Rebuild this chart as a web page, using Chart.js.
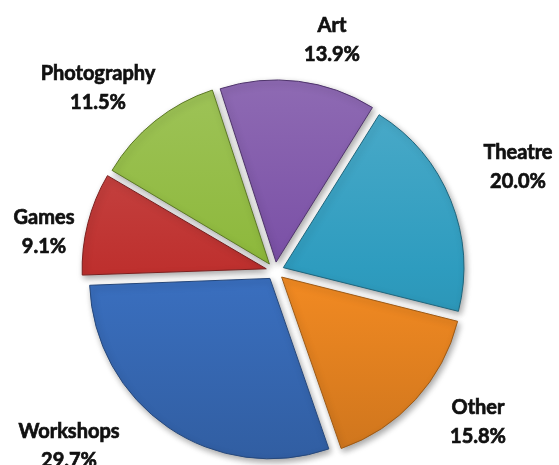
<!DOCTYPE html>
<html>
<head>
<meta charset="utf-8">
<script src="https://cdn.jsdelivr.net/npm/chart.js@4.4.1/dist/chart.umd.min.js"></script>
<style>
  html, body { margin: 0; padding: 0; background: #ffffff; }
  #wrap { width: 559px; height: 465px; position: relative; }
</style>
</head>
<body>
<div id="wrap"><canvas id="pieChart"></canvas></div>
<script>
// Share of events by category (%)
const categories = ["Art", "Theatre", "Other", "Workshops", "Games", "Photography"];
const shares = [13.9, 20.0, 15.8, 29.7, 9.1, 11.5];
const sliceColors = ["#7a50a6", "#2e9cbf", "#f28a22", "#3a6fbf", "#be302e", "#8db83b"];

// Where each two-line label sits (centre of the text block)
const labelSpots = [
  [332, 40], [518, 167], [478, 422], [69, 446], [44, 232], [98, 88]
];

const PIE_RADIUS = 180;

function shade(hex, amt) {
  const n = parseInt(hex.slice(1), 16);
  let r = (n >> 16) & 255, g = (n >> 8) & 255, b = n & 255;
  const t = amt < 0 ? 0 : 255;
  const p = Math.abs(amt);
  r = Math.round(r + (t - r) * p);
  g = Math.round(g + (t - g) * p);
  b = Math.round(b + (t - b) * p);
  return "rgb(" + r + "," + g + "," + b + ")";
}

// vertical light-to-dark fill for each slice
function sliceFill(context) {
  const chart = context.chart;
  const area = chart.chartArea;
  const base = sliceColors[context.dataIndex % sliceColors.length];
  if (!area) return base;
  const cy = (area.top + area.bottom) / 2;
  const g = chart.ctx.createLinearGradient(0, cy - PIE_RADIUS, 0, cy + PIE_RADIUS);
  g.addColorStop(0, shade(base, 0.15));
  g.addColorStop(0.5, base);
  g.addColorStop(1, shade(base, -0.15));
  return g;
}

// soft drop shadow under the slices
const shadowPlugin = {
  id: "sliceShadow",
  beforeDatasetsDraw(chart) {
    const ctx = chart.ctx;
    ctx.save();
    ctx.shadowColor = "rgba(0, 0, 0, 0.35)";
    ctx.shadowBlur = 6;
    ctx.shadowOffsetX = 2;
    ctx.shadowOffsetY = 3;
  },
  afterDatasetsDraw(chart) {
    chart.ctx.restore();
  },
};

// category name + percentage outside each slice
const labelPlugin = {
  id: "sliceLabels",
  afterDraw(chart) {
    const ctx = chart.ctx;
    const data = chart.data.datasets[0].data;
    ctx.save();
    ctx.font = "bold 20px Lato, 'Open Sans', sans-serif";
    ctx.fillStyle = "#111111";
    ctx.strokeStyle = "#111111";
    ctx.lineWidth = 0.7;
    ctx.textAlign = "center";
    ctx.textBaseline = "middle";
    chart.data.labels.forEach((name, i) => {
      const [x, y] = labelSpots[i];
      const pct = data[i].toFixed(1) + "%";
      ctx.fillText(name, x, y - 14.5);
      ctx.strokeText(name, x, y - 14.5);
      ctx.fillText(pct, x, y + 14.5);
      ctx.strokeText(pct, x, y + 14.5);
    });
    ctx.restore();
  },
};

const ctx = document.getElementById("pieChart").getContext("2d");

new Chart(ctx, {
  type: "pie",
  data: {
    labels: categories,
    datasets: [
      {
        data: shares,
        backgroundColor: sliceFill,
        borderColor: sliceColors.map((c) => shade(c, -0.35)),
        borderWidth: 1,
        offset: 36,
        hoverOffset: 0,
        radius: PIE_RADIUS,
      },
    ],
  },
  options: {
    responsive: true,
    maintainAspectRatio: false,
    animation: false,
    rotation: -18,
    layout: {
      padding: { top: 77, right: 9, left: 0, bottom: 0 },
    },
    plugins: {
      legend: { display: false },
      tooltip: { enabled: false },
    },
  },
  plugins: [shadowPlugin, labelPlugin],
});
</script>
</body>
</html>
